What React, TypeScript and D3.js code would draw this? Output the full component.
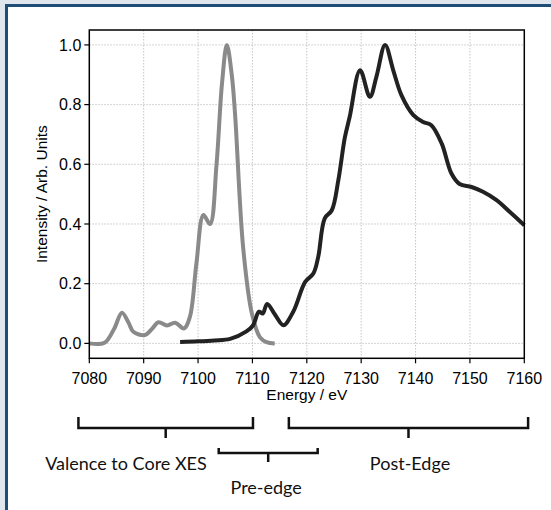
import * as d3 from "d3";

// Valence-to-core XES (gray)
const xesEnergy = [7080, 7082.8, 7084.6, 7086.0, 7087.2, 7088.1, 7090.2, 7091.6, 7092.7, 7094.3, 7095.8, 7097.4, 7098.5, 7099.7, 7101.0, 7102.2, 7103.4, 7104.4, 7105.3, 7106.2, 7106.8, 7108.3, 7109.9, 7111.4, 7112.6, 7114.1];
const xesValue = [0.0, 0.002, 0.05, 0.103, 0.07, 0.039, 0.028, 0.05, 0.071, 0.06, 0.069, 0.05, 0.089, 0.268, 0.43, 0.4, 0.6, 0.87, 1.0, 0.9, 0.77, 0.32, 0.1, 0.02, 0.004, 0.0];

// XANES (black)
const xasEnergy = [7096.7, 7100, 7103, 7105.9, 7108.9, 7110.1, 7111.2, 7111.9, 7112.7, 7114.2, 7115.7, 7117.5, 7119.7, 7121.2, 7122.1, 7123.3, 7124.6, 7125.8, 7127.0, 7127.9, 7129.8, 7131.6, 7132.8, 7134.4, 7135.9, 7137.4, 7139.6, 7141.4, 7142.9, 7144.8, 7146.6, 7148.1, 7150.3, 7152.4, 7154.9, 7157.3, 7160];
const xasValue = [0.005, 0.007, 0.01, 0.015, 0.04, 0.06, 0.106, 0.1, 0.132, 0.095, 0.061, 0.106, 0.206, 0.234, 0.29, 0.419, 0.446, 0.547, 0.69, 0.76, 0.915, 0.826, 0.893, 1.0, 0.915, 0.832, 0.765, 0.742, 0.731, 0.67, 0.569, 0.534, 0.524, 0.508, 0.48, 0.441, 0.396];

const xTicks = [7080, 7090, 7100, 7110, 7120, 7130, 7140, 7150, 7160];
const yTicks = [0.0, 0.2, 0.4, 0.6, 0.8, 1.0];

// annotation brackets (eV range) and labels
const regionNames = ["Valence to Core XES", "Pre-edge", "Post-Edge"];
const regionStart = [7078, 7103.8, 7116.7];
const regionEnd = [7110.1, 7122, 7160.7];
const regionRow = [0, 1, 0];

const W = 551, H = 510;
const left = 89.3, right = 524.3, top = 30, bottom = 358.3;

const x = d3.scaleLinear().domain([7080, 7160]).range([left, right]);
const y = d3.scaleLinear().domain([-0.05, 1.05]).range([bottom, top]);

function path(es: number[], vs: number[]) {
  const pts = es.map((e, i) => [x(e), y(vs[i])] as [number, number]);
  return d3.line().curve(d3.curveCatmullRom.alpha(0.5))(pts) || "";
}

const tickFont = "'Liberation Sans', Arial, Helvetica, sans-serif";
const noteFont = "Lato, 'Open Sans', sans-serif";

export default function App() {
  return (
    <svg width={W} height={H} style={{ position: "absolute", left: 0, top: 0 }}>
      <rect x={0} y={0} width={W} height={H} fill="#dfe6ee" />
      <rect x={6.5} y={5.5} width={W + 20} height={H + 20} fill="#fff" stroke="#1e4d78" strokeWidth={3} />

      {/* grid */}
      {xTicks.slice(1, -1).map((t) => (
        <line key={"gx" + t} x1={x(t)} x2={x(t)} y1={top} y2={bottom} stroke="#b8b8b8" strokeWidth={0.8} strokeDasharray="1.5,1.5" />
      ))}
      {yTicks.map((t) => (
        <line key={"gy" + t} x1={left} x2={right} y1={y(t)} y2={y(t)} stroke="#b8b8b8" strokeWidth={0.8} strokeDasharray="1.5,1.5" />
      ))}

      {/* curves */}
      <path d={path(xesEnergy, xesValue)} fill="none" stroke="#8a8a8a" strokeWidth={4} strokeLinejoin="round" />
      <path d={path(xasEnergy, xasValue)} fill="none" stroke="#222" strokeWidth={4} strokeLinejoin="round" />

      {/* frame */}
      <rect x={left} y={top} width={right - left} height={bottom - top} fill="none" stroke="#000" strokeWidth={1.5} />

      {/* x axis */}
      {xTicks.map((t) => (
        <g key={"xt" + t}>
          <line x1={x(t)} x2={x(t)} y1={bottom} y2={bottom + 5} stroke="#000" strokeWidth={1.2} />
          <text x={x(t)} y={383.5} textAnchor="middle" fontFamily={tickFont} fontSize={16} fill="#000">{t}</text>
        </g>
      ))}
      <text x={(left + right) / 2} y={400} textAnchor="middle" fontFamily={tickFont} fontSize={15.5} fill="#000">Energy / eV</text>

      {/* y axis */}
      {yTicks.map((t) => (
        <g key={"yt" + t}>
          <line x1={left - 5} x2={left} y1={y(t)} y2={y(t)} stroke="#000" strokeWidth={1.2} />
          <text x={left - 8} y={y(t)} dy="0.36em" textAnchor="end" fontFamily={tickFont} fontSize={16} fill="#000">{t.toFixed(1)}</text>
        </g>
      ))}
      <text transform={`translate(47,${(top + bottom) / 2}) rotate(-90)`} textAnchor="middle" fontFamily={tickFont} fontSize={15.5} fill="#000">Intensity / Arb. Units</text>

      {/* brackets */}
      {regionNames.map((name, i) => {
        const x0 = x(regionStart[i]);
        const x1 = x(regionEnd[i]);
        const xm = (x0 + x1) / 2;
        const r = regionRow[i];
        const yt = r === 0 ? 417 : 448;
        const yh = r === 0 ? 428 : 453;
        const yb = r === 0 ? 438 : 462;
        const ty = r === 0 ? 470 : 494;
        return (
          <g key={name}>
            <path d={`M${x0},${yt} L${x0},${yh} L${x1},${yh} L${x1},${yt} M${xm},${yh} L${xm},${yb}`} fill="none" stroke="#111" strokeWidth={2.5} />
            <text x={r === 0 ? (i === 0 ? 126 : 410) : xm - 2} y={ty} textAnchor="middle" fontFamily={noteFont} fontSize={18} fill="#111">{name}</text>
          </g>
        );
      })}
    </svg>
  );
}
